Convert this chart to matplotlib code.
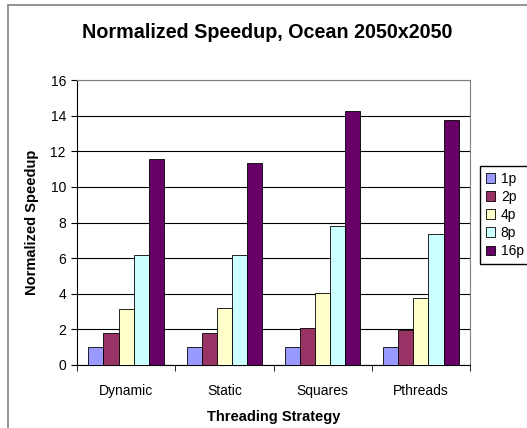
import numpy as np
import matplotlib.pyplot as plt
import matplotlib.patches as patches

plt.rcParams['font.family'] = ['Liberation Sans', 'DejaVu Sans']

STRATEGIES = ['Dynamic', 'Static', 'Squares', 'Pthreads']
PROCS      = ['1p', '2p', '4p', '8p', '16p']
COLORS     = ['#9999FF', '#993366', '#FFFFCC', '#CCFFFF', '#660066']

speedup_1p  = [1.0, 1.0, 1.0, 1.0]
speedup_2p  = [1.79, 1.79, 2.09, 1.94]
speedup_4p  = [3.14, 3.20, 4.07, 3.74]
speedup_8p  = [6.19, 6.19, 7.81, 7.33]
speedup_16p = [11.55, 11.36, 14.28, 13.76]

SERIES = [speedup_1p, speedup_2p, speedup_4p, speedup_8p, speedup_16p]

W, H = 527, 428
fig = plt.figure(figsize=(W / 100, H / 100), dpi=100)
ax  = fig.add_axes([77 / W, 1 - 365 / H, (470 - 77) / W, (365 - 80) / H])

# outer chart frame
fig.add_artist(patches.Rectangle((8 / W, -0.01), 1.0, 1 - 5 / H + 0.01,
                                 transform=fig.transFigure, fill=False,
                                 edgecolor='#808080', linewidth=1.2))

x     = np.arange(len(STRATEGIES))
bar_w = 1 / 6.5
for i, (vals, lab, col) in enumerate(zip(SERIES, PROCS, COLORS)):
    offs = (i - 2) * bar_w
    ax.bar(x + offs, vals, bar_w, color=col, edgecolor='black',
           linewidth=0.6, label=lab, zorder=3)

ax.set_xlim(-0.5, len(STRATEGIES) - 0.5)
ax.set_ylim(0, 16)
ax.set_yticks(range(0, 17, 2))
ax.set_xticks(x)
ax.set_xticklabels(STRATEGIES)
ax.set_xticks(np.arange(-0.5, len(STRATEGIES), 1), minor=True)
ax.tick_params(axis='x', which='major', length=0, pad=14, labelsize=10)
ax.tick_params(axis='x', which='minor', length=4, direction='out')
ax.tick_params(axis='y', length=4, direction='out', labelsize=10, pad=4)
ax.grid(axis='y', color='black', linewidth=0.8, zorder=0)
for side in ['top', 'right']:
    ax.spines[side].set_color('#808080')
for side in ['left', 'bottom']:
    ax.spines[side].set_color('black')

ax.set_xlabel('Threading Strategy', fontsize=10.5, fontweight='bold', labelpad=8)
ax.set_ylabel('Normalized Speedup', fontsize=10.5, fontweight='bold', labelpad=8)
fig.text(0.5 * (8 + 527) / W, 1 - 32 / H, 'Normalized Speedup, Ocean 2050x2050',
         ha='center', va='center', fontsize=14.2, fontweight='bold')

ax.legend(loc='upper left', bbox_to_anchor=(480 / W, 1 - 166 / H),
          bbox_transform=fig.transFigure, fancybox=False, edgecolor='black',
          framealpha=1, fontsize=10, handlelength=0.7, handleheight=0.7,
          handletextpad=0.4, labelspacing=0.3, borderpad=0.4,
          borderaxespad=0)

plt.savefig('out.png', dpi=100)
